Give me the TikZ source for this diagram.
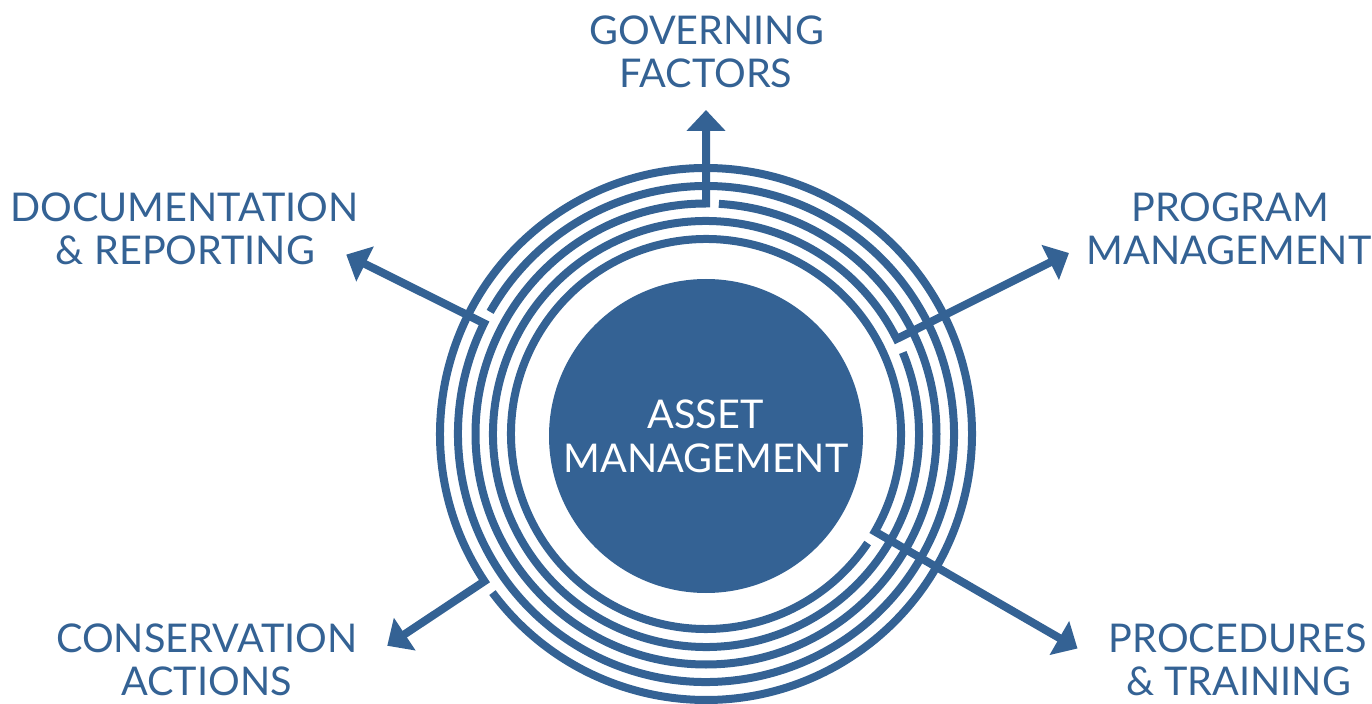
\documentclass[tikz,border=0pt]{standalone}
\usepackage{fontspec}
\setmainfont{Lato}
\usetikzlibrary{arrows.meta}
\definecolor{amblue}{RGB}{52,98,148}
\begin{document}
\begin{tikzpicture}[x=0.5pt,y=0.5pt,
  mazering/.style={draw=amblue, line width=4pt},
  mazearrow/.style={draw=amblue, line width=4pt, line join=miter, miter limit=10, {Triangle[length=10.5pt,width=19pt]}-},
  lbl/.style={text=amblue, font=\fontsize{19.8}{24}\selectfont, anchor=base, inner sep=0pt},
  corelbl/.style={lbl, text=white}]
\useasboundingbox (0,0) rectangle (1372,703);
\coordinate (C) at (706,269);
% central disc
\node[circle, fill=amblue, minimum size=157pt, inner sep=0pt] (core) at (706,267) {};
\node[corelbl] (core1) at (705.5,275) {ASSET};
\node[corelbl] (core2) at (706,231) {MANAGEMENT};
% junctions and tips
\coordinate (jTop) at ([shift={(C)}]90:230.5);
\coordinate (tTop) at (706,593);
\coordinate (jUR) at ([shift={(C)}]26.5:213);
\coordinate (tUR) at ([shift={(C)}]26.5:405.6);
\coordinate (jLR) at ([shift={(C)}]-30:195);
\coordinate (tLR) at ([shift={(C)}]-30:429);
\coordinate (jUL) at ([shift={(C)}]153.5:248);
\coordinate (tUL) at ([shift={(C)}]153.5:402);
\coordinate (jLL) at ([shift={(C)}]213.6:266);
\coordinate (tLL) at ([shift={(C)}]213.6:382.7);
% rings with their arrows
\draw[mazearrow] (tTop) -- (jTop) arc[start angle=90, end angle=446.8, radius=230.5];
\draw[mazearrow] (tUR) -- (jUR) arc[start angle=26.5, end angle=382.5, radius=213];
\draw[mazearrow] (tLR) -- (jLR) arc[start angle=-30, end angle=326, radius=195];
\draw[mazearrow] (tUL) -- (jUL) arc[start angle=153.5, end angle=510.5, radius=248];
\draw[mazearrow] (tLL) -- (jLL) arc[start angle=213.6, end angle=-143.4, radius=266];
% labels
\node[lbl] (gov1) at (706.5,658) {GOVERNING};
\node[lbl] (gov2) at (706,615) {FACTORS};
\node[lbl] (doc1) at (184.5,481) {DOCUMENTATION};
\node[lbl] (doc2) at (185.5,438) {\& REPORTING};
\node[lbl] (prog1) at (1230,481) {PROGRAM};
\node[lbl] (prog2) at (1229,438) {MANAGEMENT};
\node[lbl] (cons1) at (207,51) {CONSERVATION};
\node[lbl] (cons2) at (206.5,8) {ACTIONS};
\node[lbl] (proc1) at (1237.5,51) {PROCEDURES};
\node[lbl] (proc2) at (1238.5,8) {\& TRAINING};
\end{tikzpicture}
\end{document}
